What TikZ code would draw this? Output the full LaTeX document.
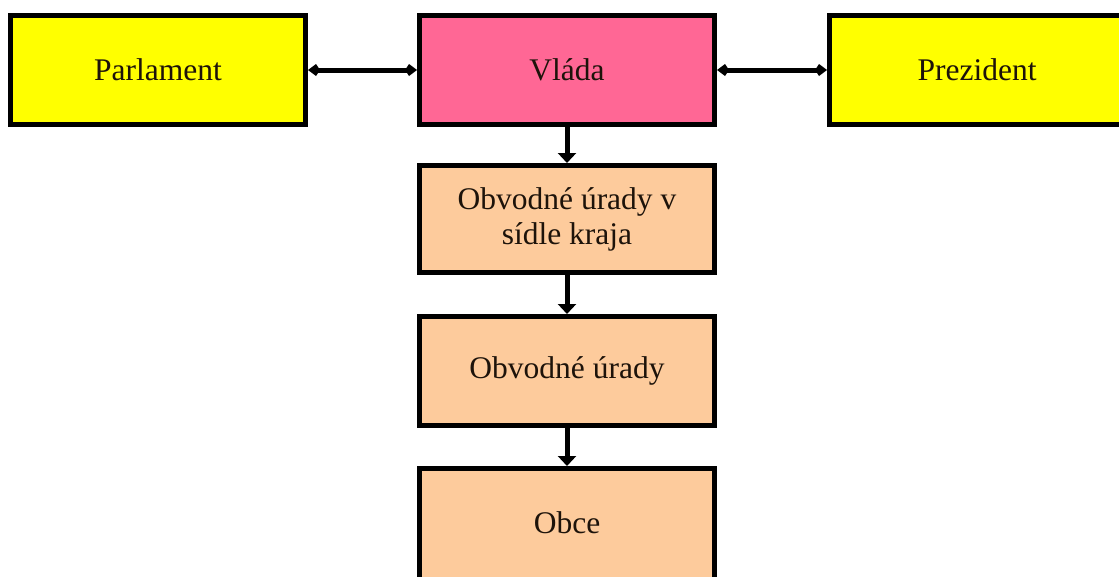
\documentclass[tikz,border=0pt]{standalone}
\usepackage{fontspec}
\setmainfont{Liberation Serif}
\usetikzlibrary{arrows.meta}
\definecolor{boxyellow}{HTML}{FFFF00}
\definecolor{boxpink}{HTML}{FF6795}
\definecolor{boxpeach}{HTML}{FDCB9C}
\tikzset{
  orgbox/.style={draw=black, line width=5pt, minimum width=295pt, minimum height=109pt,
    inner sep=0pt, align=center, font=\fontsize{31.5}{35}\selectfont, text=black!85!brown},
  harrow/.style={line width=5pt, {Kite[length=12pt,width=12pt,inset=4pt]}-{Kite[length=12pt,width=12pt,inset=4pt]}},
  varrow/.style={line width=5pt, -{Triangle[length=10pt,width=18pt]}}
}
\begin{document}
\begin{tikzpicture}[x=1pt,y=-1pt]
\useasboundingbox (0,0) rectangle (1119,576);
\fill[white] (0,0) rectangle (1119,576);
\clip (0,0) rectangle (1119,576);
\node[orgbox, fill=boxyellow] (parl) at (158,70) {Parlament};
\node[orgbox, fill=boxpink] (vlada) at (567,70) {Vláda};
\node[orgbox, fill=boxyellow] (prez) at (977,70) {Prezident};
\node[orgbox, fill=boxpeach, minimum height=107pt] (kraj) at (567,219) {Obvodné úrady v\\sídle kraja};
\node[orgbox, fill=boxpeach, minimum height=109pt] (obv) at (567,371) {Obvodné úrady};
\node[orgbox, fill=boxpeach, minimum height=120pt] (obce) at (567,528.5) {\raisebox{12pt}{Obce}};
\draw[harrow] (parl.east) -- (vlada.west);
\draw[harrow] (vlada.east) -- (prez.west);
\draw[varrow] (vlada.south) -- (kraj.north);
\draw[varrow] (kraj.south) -- (obv.north);
\draw[varrow] (obv.south) -- (obce.north);
\end{tikzpicture}
\end{document}
